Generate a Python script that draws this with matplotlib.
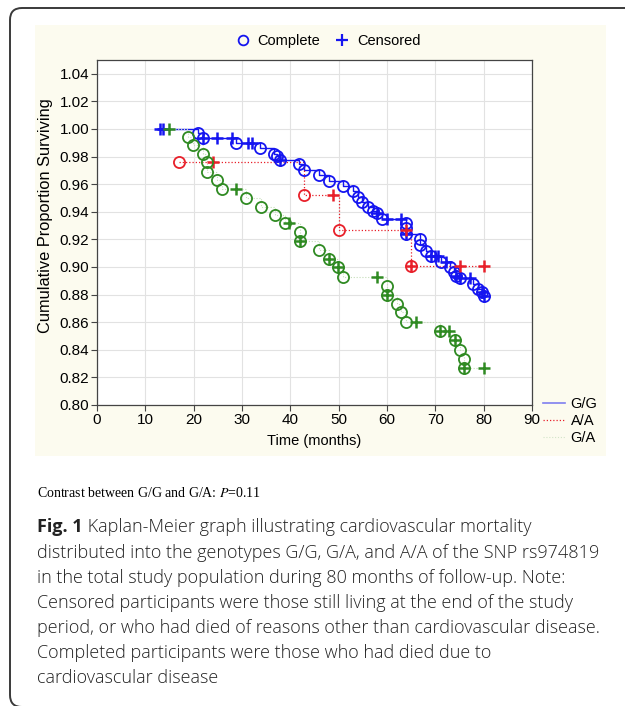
import matplotlib
matplotlib.use("Agg")
import matplotlib.pyplot as plt
from matplotlib.lines import Line2D
from matplotlib.patches import FancyBboxPatch, Rectangle

# G/G  (complete = died of CVD, censored = still alive / other cause)
gg_done_t = [20.8, 21.9, 28.8, 33.8, 36.6, 37.2, 37.9, 41.7, 42.8, 46.0, 48.1, 50.8,
             52.9, 53.9, 54.8, 56.0, 57.2, 57.9, 59.0, 64.0, 64.0, 64.0, 66.9, 66.9,
             68.0, 69.0, 71.2, 73.0, 73.8, 74.2, 75.1, 77.8, 78.9, 79.6, 80.0]
gg_done_s = [0.9968, 0.9932, 0.9895, 0.9859, 0.9820, 0.9803, 0.9775, 0.9745, 0.9700,
             0.9664, 0.9622, 0.9588, 0.9549, 0.9510, 0.9470, 0.9432, 0.9405, 0.9390,
             0.9350, 0.9316, 0.9284, 0.9236, 0.9202, 0.9156, 0.9118, 0.9082, 0.9034,
             0.8998, 0.8962, 0.8938, 0.8920, 0.8877, 0.8841, 0.8817, 0.8793]
gg_cens_t = [13.0, 13.7, 21.9, 24.8, 27.9, 31.2, 32.1, 37.9, 57.9, 60.0, 62.9, 64.0,
             69.0, 69.9, 70.6, 72.3, 74.2, 75.1, 77.1, 79.6, 80.0]
gg_cens_s = [1.0, 1.0, 0.9932, 0.9932, 0.9932, 0.9895, 0.9895, 0.9775, 0.9390, 0.9350,
             0.9350, 0.9236, 0.9082, 0.9082, 0.9082, 0.9034, 0.8938, 0.8920, 0.8920,
             0.8817, 0.8793]

# A/A
aa_done_t = [16.9, 42.8, 50.0, 64.9]
aa_done_s = [0.9762, 0.9520, 0.9267, 0.9010]
aa_cens_t = [24.0, 48.8, 64.0, 64.9, 75.1, 80.0]
aa_cens_s = [0.9762, 0.9520, 0.9267, 0.9010, 0.9010, 0.9010]

# G/A
ga_done_t = [18.8, 19.8, 21.9, 22.8, 22.8, 24.8, 25.9, 30.8, 33.9, 36.9, 38.8, 41.9,
             41.9, 45.9, 47.9, 49.9, 50.9, 60.0, 60.0, 62.0, 62.9, 64.0, 71.0, 74.0,
             75.0, 75.9, 75.9]
ga_done_s = [0.9944, 0.9884, 0.9818, 0.9758, 0.9692, 0.9629, 0.9564, 0.9503, 0.9438,
             0.9378, 0.9316, 0.9251, 0.9186, 0.9123, 0.9058, 0.8998, 0.8930, 0.8865,
             0.8800, 0.8733, 0.8672, 0.8600, 0.8535, 0.8468, 0.8400, 0.8335, 0.8268]
ga_cens_t = [14.8, 28.7, 39.7, 41.9, 47.9, 49.9, 58.0, 60.0, 65.9, 71.0, 72.9, 74.0,
             75.9, 80.0]
ga_cens_s = [1.0, 0.9564, 0.9316, 0.9186, 0.9058, 0.8998, 0.8930, 0.8800, 0.8600,
             0.8535, 0.8535, 0.8468, 0.8268, 0.8268]

groups = ["G/G", "A/A", "G/A"]
x_ticks = list(range(0, 100, 10))
y_ticks = [0.80 + 0.02 * i for i in range(13)]

caption_lines = [
    "Kaplan-Meier graph illustrating cardiovascular mortality",
    "distributed into the genotypes G/G, G/A, and A/A of the SNP rs974819",
    "in the total study population during 80 months of follow-up. Note:",
    "Censored participants were those still living at the end of the study",
    "period, or who had died of reasons other than cardiovascular disease.",
    "Completed participants were those who had died due to",
    "cardiovascular disease",
]

BLUE = "#1515f0"
RED = "#e8202a"
GREEN = "#2f8a22"
W, H = 625, 706

plt.rcParams["font.family"] = ["Liberation Sans", "DejaVu Sans"]
plt.rcParams["mathtext.fontset"] = "stix"

fig = plt.figure(figsize=(W / 100, H / 100), dpi=100)

# page background in pixel coordinates
bg = fig.add_axes([0, 0, 1, 1], zorder=-5)
bg.set_xlim(0, W)
bg.set_ylim(H, 0)
bg.axis("off")
bg.add_patch(FancyBboxPatch((10, 8), 700, 699, boxstyle="round,pad=0,rounding_size=12",
                            fc="white", ec="#3a3a3a", lw=1.4))
bg.add_patch(Rectangle((35, 25), 571, 431, fc="#fcfbef", ec="none"))

bg.text(37, 493, "Contrast between G/G and G/A: $P$=0.11", fontsize=10,
        family="Liberation Serif", va="center", ha="left")

cap_y = [527, 553, 578, 603, 628, 653, 678]
cap_font = dict(fontsize=13, family="Open Sans", weight="light", color="#222222")
for i, line in enumerate(caption_lines):
    if i == 0:
        t = bg.text(37, cap_y[i], "Fig. 1", fontsize=13, family="Open Sans",
                    weight="bold", va="center", ha="left", color="#222222")
        bg.annotate(" " + line, xy=(1, 0.5), xycoords=t, va="center", ha="left",
                    **cap_font)
    else:
        bg.text(37, cap_y[i], line, va="center", ha="left", **cap_font)

# main chart
ax = fig.add_axes([97 / W, 1 - 405 / H, (532 - 97) / W, (405 - 60) / H])
ax.set_facecolor("white")


def km_line(done_t, done_s, cens_t, cens_s):
    pts = sorted(zip(done_t + cens_t, done_s + cens_s), key=lambda p: (p[0], -p[1]))
    return [p[0] for p in pts], [p[1] for p in pts]


t, s = km_line(gg_done_t, gg_done_s, gg_cens_t, gg_cens_s)
ax.plot(t, s, drawstyle="steps-post", color=BLUE, lw=1.0, zorder=3)
t, s = km_line(aa_done_t, aa_done_s, aa_cens_t, aa_cens_s)
ax.plot(t, s, drawstyle="steps-post", color=RED, lw=0.9, ls=(0, (1, 1.6)), zorder=3)
t, s = km_line(ga_done_t, ga_done_s, ga_cens_t, ga_cens_s)
ax.plot(t, s, drawstyle="steps-post", color="#c4dcb8", lw=0.8, ls=(0, (1, 1.6)), zorder=3)

for col, dt, ds, ct, cs in [(BLUE, gg_done_t, gg_done_s, gg_cens_t, gg_cens_s),
                            (RED, aa_done_t, aa_done_s, aa_cens_t, aa_cens_s),
                            (GREEN, ga_done_t, ga_done_s, ga_cens_t, ga_cens_s)]:
    ax.plot(dt, ds, "o", ms=8, mfc="none", mec=col, mew=1.3, zorder=4)
    ax.plot(ct, cs, "+", ms=9, mec=col, mew=1.8, zorder=4)

ax.set_xlim(0, 90)
ax.set_ylim(0.80, 1.05)
ax.set_xticks(x_ticks)
ax.set_yticks(y_ticks)
ax.set_yticklabels([f"{v:.2f}" for v in y_ticks])
ax.grid(True, color="#e2e2e2", lw=0.8)
ax.set_axisbelow(True)
ax.tick_params(labelsize=11, length=4, width=0.8, color="#444444", pad=1.5)
for sp in ax.spines.values():
    sp.set_color("#444444")
    sp.set_linewidth(0.9)
ax.set_xlabel("Time (months)", fontsize=10.5)
ax.xaxis.set_label_coords(0.50, -0.085)
ax.set_ylabel("Cumulative Proportion Surviving", fontsize=11.8)
ax.yaxis.set_label_coords(-0.10, 0.55)

# top marker legend
mk = [Line2D([], [], ls="none", marker="o", ms=7, mfc="none", mec=BLUE, mew=1.3),
      Line2D([], [], ls="none", marker="+", ms=8, mec=BLUE, mew=1.6)]
fig.legend(mk, ["Complete", "Censored"], loc="center", ncol=2, frameon=False,
           bbox_to_anchor=(328 / W, 1 - 41 / H), fontsize=10.5, handlelength=1.0,
           handletextpad=0.5, columnspacing=1.0)

# group legend
gl = [Line2D([], [], color="#7f7ff0", lw=1.2),
      Line2D([], [], color=RED, lw=0.9, ls=(0, (1, 1.6))),
      Line2D([], [], color="#d2e4c8", lw=0.8, ls=(0, (1, 1.6)))]
fig.legend(gl, groups, loc="center left", frameon=False, borderpad=0.2,
           bbox_to_anchor=(540 / W, 1 - 421 / H), fontsize=10.5, handlelength=1.5,
           handletextpad=0.4, labelspacing=0.2, borderaxespad=0)

fig.savefig("out.png", dpi=100)
